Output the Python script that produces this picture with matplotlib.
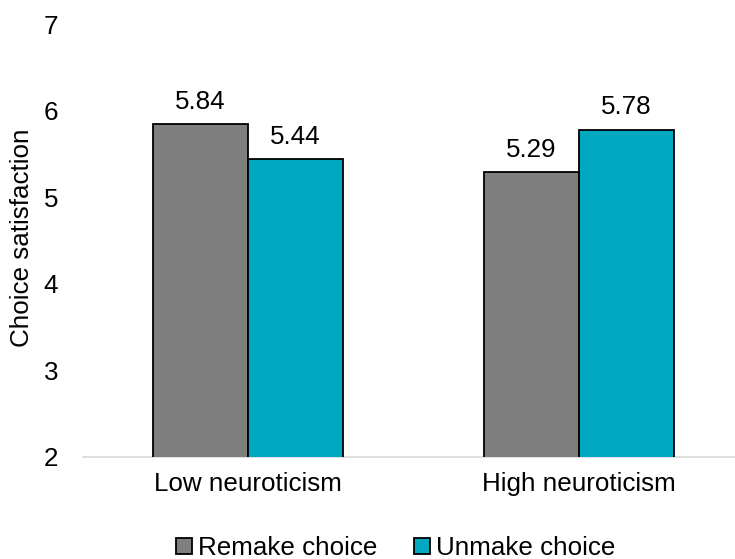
import matplotlib
matplotlib.use('Agg')
import matplotlib.pyplot as plt
import numpy as np

# Mean choice satisfaction by neuroticism group
groups = ['Low neuroticism', 'High neuroticism']
remake = [5.84, 5.29]
unmake = [5.44, 5.78]
series_names = ['Remake choice', 'Unmake choice']
y_ticks = [2, 3, 4, 5, 6, 7]

GRAY = '#7F7F7F'
TEAL = '#00A9C1'
FS = 18.7

plt.rcParams['font.family'] = ['Liberation Sans', 'DejaVu Sans']

fig = plt.figure(figsize=(7.35, 5.59), dpi=100)
ax = fig.add_axes([83 / 735, 1 - 457 / 559, (735 - 83) / 735, (457 - 24) / 559])

x = np.arange(len(groups))
width = 0.288

b1 = ax.bar(x - width / 2, remake, width, bottom=0, color=GRAY,
            edgecolor='black', linewidth=1.3, label=series_names[0], zorder=3)
b2 = ax.bar(x + width / 2, unmake, width, bottom=0, color=TEAL,
            edgecolor='black', linewidth=1.3, label=series_names[1], zorder=3)

# value labels above each bar
for bars, vals in ((b1, remake), (b2, unmake)):
    for bar, v in zip(bars, vals):
        ax.annotate(f'{v:.2f}', (bar.get_x() + bar.get_width() / 2, v),
                    xytext=(0, 7.5), textcoords='offset points',
                    ha='center', va='bottom', fontsize=FS)

ax.set_ylim(2, 7)
ax.set_xlim(-0.4985, 1.471)
ax.set_yticks(y_ticks)
ax.set_xticks(x)
ax.set_xticklabels(groups)
ax.tick_params(axis='both', length=0, labelsize=FS)
ax.tick_params(axis='x', pad=11)
ax.tick_params(axis='y', pad=18)

for side in ('top', 'right', 'left'):
    ax.spines[side].set_visible(False)
ax.spines['bottom'].set_color('#D9D9D9')
ax.spines['bottom'].set_linewidth(1.2)

ax.set_ylabel('Choice satisfaction', fontsize=FS, va='center')
ax.yaxis.set_label_coords((22 - 83) / (735 - 83), (457 - 238) / (457 - 24))

fig.legend(handles=[b1, b2], loc='center', bbox_to_anchor=(396 / 735, 1 - 548 / 559),
           ncol=2, frameon=False, fontsize=FS, handlelength=0.6, handleheight=0.6,
           handletextpad=0.25, columnspacing=1.4, borderpad=0)

fig.savefig('out.png', dpi=100)
